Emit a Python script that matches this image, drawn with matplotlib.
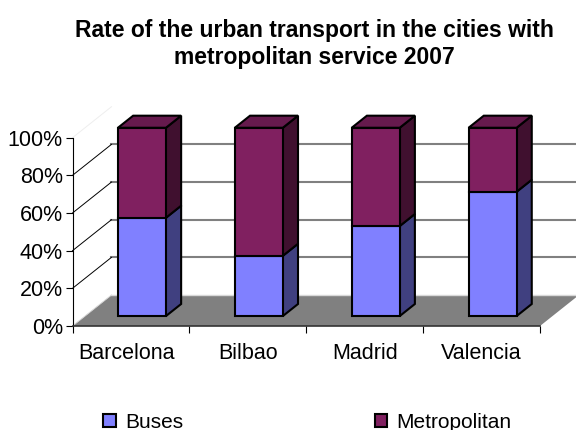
import matplotlib
matplotlib.use('Agg')
from matplotlib import pyplot as plt
from matplotlib.patches import Patch

# data
cities = ['Barcelona', 'Bilbao', 'Madrid', 'Valencia']
buses = [52.2, 32, 47.8, 66]
metro = [47.8, 68, 52.2, 34]
yticks = [0, 20, 40, 60, 80, 100]

W, H = 576, 430
fig = plt.figure(figsize=(W / 100, H / 100), dpi=100)
plt.rcParams['font.family'] = ['Liberation Sans', 'DejaVu Sans']
# axes box = the front plane of the 3d chart
ax = fig.add_axes([72.5 / W, 1 - 326 / H, 467.5 / W, 188.3 / H])
ax.set_xlim(0, 4)
ax.set_ylim(0, 100)

# oblique depth, z goes 0..1 from front to back wall
DX = 39 / 116.9
DY = 31 / 1.883


def proj(x, y, z):
    return x + z * DX, y + z * DY


def face(pts, color, z, lw=1.5, ec='black'):
    xs, ys = zip(*[proj(*p) for p in pts])
    ax.fill(xs, ys, facecolor=color, edgecolor=ec, lw=lw, zorder=z,
            clip_on=False, joinstyle='miter')


# floor
face([(0, 0, 0), (4, 0, 0), (4, 0, 1), (0, 0, 1)], '#808080', 1, lw=0, ec='none')

# back wall and side wall grid
for v in yticks[1:-1]:
    xs, ys = zip(proj(0, v, 1), proj(4, v, 1))
    ax.plot(xs, ys, color='#808080', lw=1.5, zorder=1, clip_on=False)
    xs, ys = zip(proj(0, v, 0), proj(0, v, 1))
    ax.plot(xs, ys, color='black', lw=0.7, zorder=1, clip_on=False)
xs, ys = zip(proj(0, 0, 1), proj(4, 0, 1))
ax.plot(xs, ys, color='#d8d8d8', lw=1, zorder=1, clip_on=False)
xs, ys = zip(proj(0, 100, 0), proj(0, 100, 1))
ax.plot(xs, ys, color='#eeeeee', lw=0.7, zorder=1, clip_on=False)
xs, ys = zip(proj(0, 0, 0), proj(0, 0, 1))
ax.plot(xs, ys, color='#d8d8d8', lw=0.7, zorder=1, clip_on=False)

# bars
Z0, Z1 = 0.32, 0.71
BW = 48 / 116.9
for i in range(len(cities)):
    x0 = i + (1 - BW) / 2 - Z0 * DX + 11 / 116.9
    x1 = x0 + BW
    b = buses[i]
    t = b + metro[i]
    # sides
    face([(x1, 0, Z0), (x1, 0, Z1), (x1, b, Z1), (x1, b, Z0)], '#404080', 3)
    face([(x1, b, Z0), (x1, b, Z1), (x1, t, Z1), (x1, t, Z0)], '#40102f', 3)
    # top
    face([(x0, t, Z0), (x1, t, Z0), (x1, t, Z1), (x0, t, Z1)], '#661a4d', 3)
    # fronts
    face([(x0, 0, Z0), (x1, 0, Z0), (x1, b, Z0), (x0, b, Z0)], '#8080ff', 4)
    face([(x0, b, Z0), (x1, b, Z0), (x1, t, Z0), (x0, t, Z0)], '#802060', 4)

for s in ['top', 'right']:
    ax.spines[s].set_visible(False)
ax.spines['left'].set_linewidth(0.8)
ax.spines['bottom'].set_linewidth(1.2)
ax.spines['bottom'].set_color('#333333')
ax.set_facecolor('none')

ax.set_yticks(yticks)
ax.set_yticklabels([str(v) + '%' for v in yticks], fontsize=15.5)
ax.tick_params(axis='y', length=5, width=0.8, pad=2)
ax.set_xticks(range(5))
ax.set_xticklabels([''] * 5)
ax.tick_params(axis='x', length=5, width=0.8)
ax.set_xticks([0.46, 1.5, 2.5, 3.5], minor=True)
ax.set_xticklabels(cities, minor=True, fontsize=15.5)
ax.tick_params(axis='x', which='minor', length=0, pad=12)

fig.text(314 / W, 1 - 44 / H, 'Rate of the urban transport in the cities with\nmetropolitan service 2007',
         ha='center', va='center', fontsize=16.5, fontweight='bold', linespacing=1.25)

handles = [Patch(facecolor='#8080ff', edgecolor='black', lw=1.5),
           Patch(facecolor='#802060', edgecolor='black', lw=1.5)]
fig.legend(handles, ['Buses', 'Metropolitan'], ncol=2, frameon=False, fontsize=15,
           loc='center', bbox_to_anchor=(307.5 / W, 1 - 422 / H),
           handlelength=0.6, handleheight=0.6, handletextpad=0.45, columnspacing=9.2,
           borderpad=0, borderaxespad=0)

fig.savefig('out.png', dpi=100)
